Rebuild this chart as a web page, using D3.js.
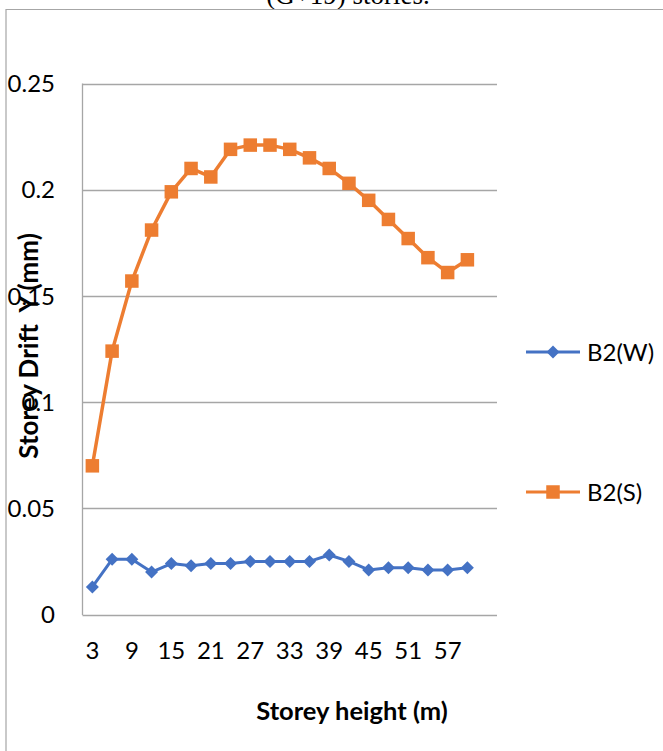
<!DOCTYPE html>
<html>
<head>
<meta charset="utf-8">
<script src="https://cdn.jsdelivr.net/npm/d3@7"></script>
<style>
  html, body { margin: 0; padding: 0; background: #fff; }
  svg { display: block; }
</style>
</head>
<body>
<svg id="chart" width="663" height="751"></svg>
<script>
// ---- data ----
const categories = [3, 6, 9, 12, 15, 18, 21, 24, 27, 30, 33, 36, 39, 42, 45, 48, 51, 54, 57, 60, 63];
const xTickLabels = [3, 9, 15, 21, 27, 33, 39, 45, 51, 57];
const seriesNames = ["B2(W)", "B2(S)"];
const valuesW = [0.013, 0.026, 0.026, 0.020, 0.024, 0.023, 0.024, 0.024, 0.025, 0.025, 0.025, 0.025, 0.028, 0.025, 0.021, 0.022, 0.022, 0.021, 0.021, 0.022];
const valuesS = [0.070, 0.124, 0.157, 0.181, 0.199, 0.210, 0.206, 0.219, 0.221, 0.221, 0.219, 0.215, 0.210, 0.203, 0.195, 0.186, 0.177, 0.168, 0.161, 0.167];
const yTicks = [0, 0.05, 0.1, 0.15, 0.2, 0.25];
const yTickLabels = ["0", "0.05", "0.1", "0.15", "0.2", "0.25"];
const titleText = "(G+19) stories.";
const xTitle = "Storey height (m)";
const yTitle = "Storey Drift  Y (mm)";

// ---- layout ----
const svg = d3.select("#chart");
const plot = { left: 82.5, right: 497, top: 83.5, bottom: 614.5 };
const colors = { W: "#4472C4", S: "#ED7D31" };
const gridColor = "#a6a6a6";
const font = "Lato, 'Open Sans', sans-serif";

const x = d3.scaleBand().domain(categories).range([plot.left, plot.right]);
const y = d3.scaleLinear().domain([0, 0.25]).range([plot.bottom, plot.top]);

// title (mostly cut off at the top, as in the source)
svg.append("text")
  .attr("x", 348).attr("y", 4)
  .attr("text-anchor", "middle")
  .style("font-family", "'Liberation Serif', 'Times New Roman', serif")
  .style("font-size", "27px")
  .text(titleText);

// outer frame
svg.append("path")
  .attr("d", `M6,751 V9.5 H663`)
  .attr("fill", "none").attr("stroke", gridColor).attr("stroke-width", 1.2);

// gridlines
svg.append("g").selectAll("line").data(yTicks).join("line")
  .attr("x1", plot.left).attr("x2", plot.right)
  .attr("y1", d => Math.round(y(d)) + 0.5).attr("y2", d => Math.round(y(d)) + 0.5)
  .attr("stroke", gridColor).attr("stroke-width", 1.3);

// left axis line
svg.append("line")
  .attr("x1", plot.left).attr("x2", plot.left)
  .attr("y1", plot.top).attr("y2", plot.bottom + 0.5)
  .attr("stroke", gridColor).attr("stroke-width", 1.3);

// y tick labels
svg.append("g").selectAll("text").data(yTicks).join("text")
  .attr("x", 55).attr("y", d => y(d))
  .attr("dy", "0.36em")
  .attr("text-anchor", "end")
  .style("font-family", font).style("font-size", "24px").style("fill", "#000")
  .text((d, i) => yTickLabels[i]);

// x tick labels
svg.append("g").selectAll("text").data(xTickLabels).join("text")
  .attr("x", d => x(d) + x.bandwidth() / 2).attr("y", 659)
  .attr("text-anchor", "middle")
  .style("font-family", font).style("font-size", "24px").style("fill", "#000")
  .text(d => d);

// axis titles
svg.append("text")
  .attr("x", 352).attr("y", 720)
  .attr("text-anchor", "middle")
  .style("font-family", font).style("font-size", "25.5px").style("font-weight", "bold")
  .text(xTitle);

svg.append("text")
  .attr("transform", "translate(38,346) rotate(-90)")
  .attr("text-anchor", "middle")
  .attr("xml:space", "preserve")
  .style("white-space", "pre")
  .style("font-family", font).style("font-size", "26px").style("font-weight", "bold")
  .text(yTitle);

// series
const cx = (d, i) => x(categories[i]) + x.bandwidth() / 2;
const line = d3.line().x(cx).y(d => y(d));

svg.append("path").datum(valuesS)
  .attr("d", line).attr("fill", "none")
  .attr("stroke", colors.S).attr("stroke-width", 3.5).attr("stroke-linejoin", "round");
svg.append("path").datum(valuesW)
  .attr("d", line).attr("fill", "none")
  .attr("stroke", colors.W).attr("stroke-width", 3).attr("stroke-linejoin", "round");

const sq = 13.5;
svg.append("g").selectAll("rect").data(valuesS).join("rect")
  .attr("x", (d, i) => cx(d, i) - sq / 2).attr("y", d => y(d) - sq / 2)
  .attr("width", sq).attr("height", sq).attr("fill", colors.S);

const dia = 6.5;
const diamond = (cxv, cyv) => `M${cxv},${cyv - dia} L${cxv + dia},${cyv} L${cxv},${cyv + dia} L${cxv - dia},${cyv} Z`;
svg.append("g").selectAll("path").data(valuesW).join("path")
  .attr("d", (d, i) => diamond(cx(d, i), y(d))).attr("fill", colors.W);

// legend
const legend = [
  { name: seriesNames[0], color: colors.W, yPos: 352, shape: "diamond" },
  { name: seriesNames[1], color: colors.S, yPos: 492, shape: "square" }
];
legend.forEach(l => {
  svg.append("line").attr("x1", 526).attr("x2", 580).attr("y1", l.yPos).attr("y2", l.yPos)
    .attr("stroke", l.color).attr("stroke-width", 3);
  if (l.shape === "diamond") {
    svg.append("path").attr("d", diamond(553, l.yPos)).attr("fill", l.color);
  } else {
    svg.append("rect").attr("x", 553 - sq / 2).attr("y", l.yPos - sq / 2)
      .attr("width", sq).attr("height", sq).attr("fill", l.color);
  }
  svg.append("text").attr("x", 587).attr("y", l.yPos).attr("dy", "0.36em")
    .style("font-family", font).style("font-size", "24px")
    .text(l.name);
});
</script>
</body>
</html>
